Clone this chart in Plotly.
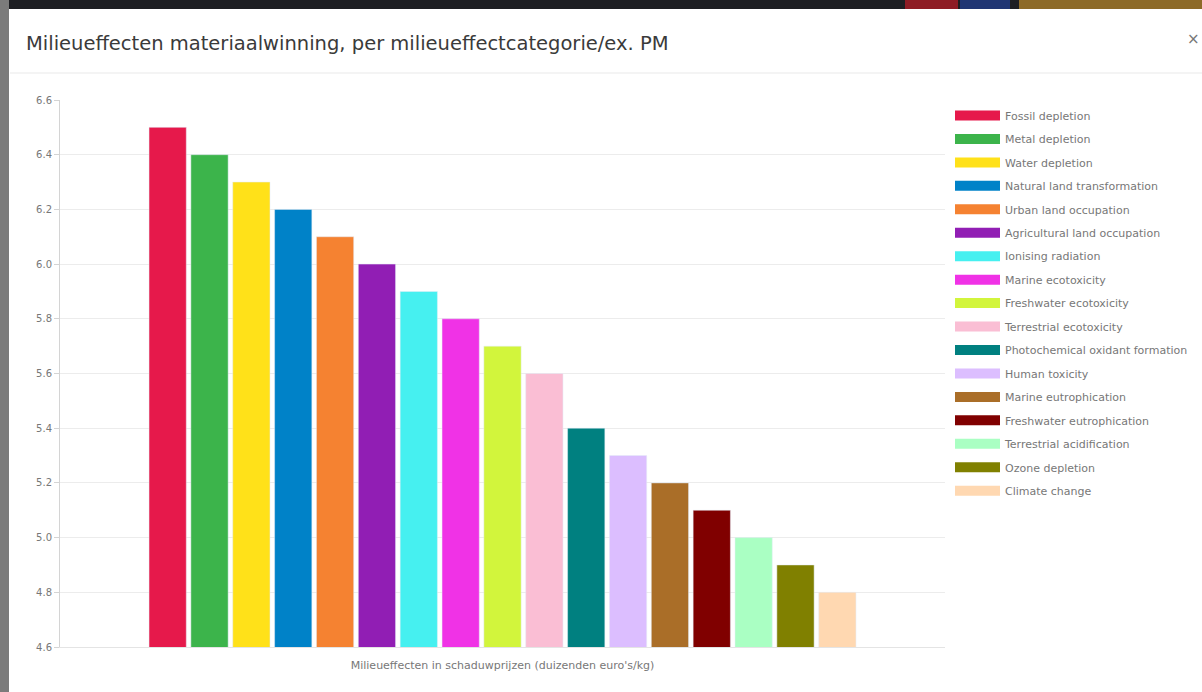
import plotly.graph_objects as go

category = ["Milieueffecten in schaduwprijzen (duizenden euro's/kg)"]
series_names = [
    "Fossil depletion", "Metal depletion", "Water depletion",
    "Natural land transformation", "Urban land occupation",
    "Agricultural land occupation", "Ionising radiation",
    "Marine ecotoxicity", "Freshwater ecotoxicity", "Terrestrial ecotoxicity",
    "Photochemical oxidant formation", "Human toxicity",
    "Marine eutrophication", "Freshwater eutrophication",
    "Terrestrial acidification", "Ozone depletion", "Climate change",
]
series_values = [6.5, 6.4, 6.3, 6.2, 6.1, 6.0, 5.9, 5.8, 5.7, 5.6,
                 5.4, 5.3, 5.2, 5.1, 5.0, 4.9, 4.8]
series_colors = [
    "#e6194b", "#3cb44b", "#ffe119", "#0082c8", "#f58231", "#911eb4",
    "#46f0f0", "#f032e6", "#d2f53c", "#fabed4", "#008080", "#dcbeff",
    "#aa6e28", "#800000", "#aaffc3", "#808000", "#ffd8b1",
]
y_ticks = [4.6, 4.8, 5.0, 5.2, 5.4, 5.6, 5.8, 6.0, 6.2, 6.4, 6.6]
title_text = "Milieueffecten materiaalwinning, per milieueffectcategorie/ex. PM"

W, H = 1202, 692
PL, PR, PT, PB = 60, 945, 100, 647
SMALL = dict(family="DejaVu Sans", size=10, color="#777777")
LEG = dict(family="DejaVu Sans", size=11, color="#777777")
XLAB = dict(family="DejaVu Sans", size=11, color="#777777")


def px(x):
    return (x - PL) / (PR - PL)


def py(y):
    return (PB - y) / (PB - PT)


fig = go.Figure()
for name, val, col in zip(series_names, series_values, series_colors):
    fig.add_trace(go.Bar(
        x=category, y=[val], name=name, legendgroup=name,
        marker=dict(color=col), showlegend=False,
        hovertemplate=name + ": %{y}<extra></extra>",
    ))
for name, col in zip(series_names, series_colors):
    fig.add_trace(go.Scatter(
        x=[None], y=[None], mode="lines", name=name, legendgroup=name,
        line=dict(color=col, width=12), hoverinfo="skip",
    ))

shapes = [
    # page behind the modal
    dict(type="rect", xref="paper", yref="paper", x0=px(0), x1=px(W), y0=py(0), y1=py(9),
         fillcolor="#1d1e22", line_width=0, layer="below"),
    dict(type="rect", xref="paper", yref="paper", x0=px(0), x1=px(9), y0=py(0), y1=py(H),
         fillcolor="#7b7b7b", line_width=0, layer="below"),
    dict(type="rect", xref="paper", yref="paper", x0=px(905), x1=px(958), y0=py(0), y1=py(9),
         fillcolor="#8e1c24", line_width=0, layer="below"),
    dict(type="rect", xref="paper", yref="paper", x0=px(960), x1=px(1010), y0=py(0), y1=py(9),
         fillcolor="#1f3573", line_width=0, layer="below"),
    dict(type="rect", xref="paper", yref="paper", x0=px(1019), x1=px(W), y0=py(0), y1=py(9),
         fillcolor="#8d6a28", line_width=0, layer="below"),
    # header separator
    dict(type="line", xref="paper", yref="paper", x0=px(10), x1=px(W), y0=py(73), y1=py(73),
         line=dict(color="#e9e9e9", width=1), layer="below"),
]

annotations = [
    dict(text=title_text, xref="paper", yref="paper", x=px(24), y=py(43),
         xanchor="left", yanchor="middle", showarrow=False,
         font=dict(family="DejaVu Sans", size=19.5, color="#3a3a3a")),
    dict(text="×", xref="paper", yref="paper", x=px(1193), y=py(39),
         xanchor="center", yanchor="middle", showarrow=False,
         font=dict(family="DejaVu Sans", size=15, color="#777777")),
]

fig.update_layout(
    width=W, height=H,
    margin=dict(l=PL, r=W - PR, t=PT, b=H - PB, pad=0, autoexpand=False),
    paper_bgcolor="white", plot_bgcolor="white",
    barmode="group", bargap=0.196, bargroupgap=0.11,
    font=SMALL,
    shapes=shapes, annotations=annotations,
    legend=dict(
        x=px(950), y=py(101), xanchor="left", yanchor="top",
        font=LEG, tracegroupgap=4.45, borderwidth=0,
        itemwidth=45, bgcolor="rgba(0,0,0,0)",
    ),
    showlegend=True,
)
fig.update_yaxes(
    range=[4.6, 6.6], tickvals=y_ticks, tickformat=".1f",
    showgrid=True, gridcolor="#ececec", gridwidth=1,
    showline=True, linecolor="#d4d4d4", linewidth=1,
    ticks="outside", ticklen=5, tickcolor="#d4d4d4",
    zeroline=False, tickfont=SMALL,
)
fig.update_xaxes(
    showline=True, linecolor="#e4e4e4", linewidth=1,
    ticks="", ticklabelstandoff=8, tickfont=XLAB,
)

fig.write_html(
    "out.html",
    config={"displayModeBar": False},
    post_script="document.body.style.margin='0';document.body.style.overflow='hidden';",
)
